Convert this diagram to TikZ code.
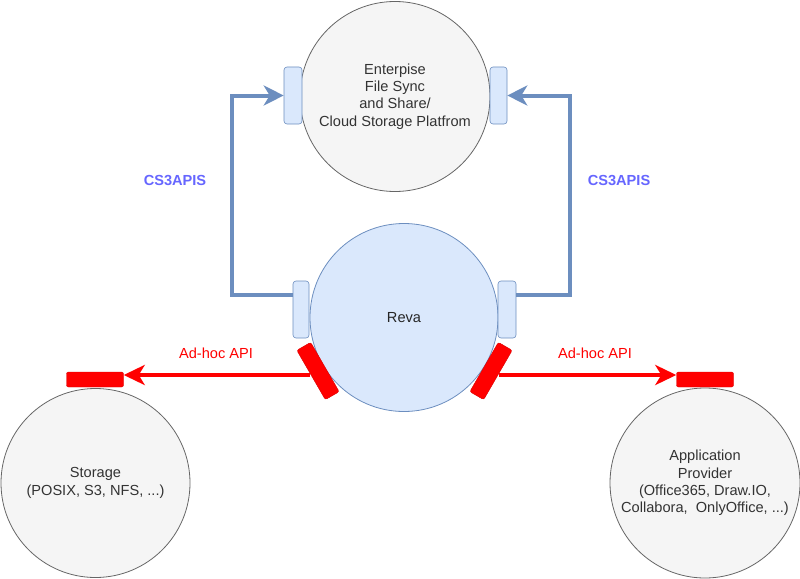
\documentclass[tikz,border=0pt]{standalone}
\usepackage{fontspec}
\setmainfont{Liberation Sans}
\usetikzlibrary{arrows.meta}
\definecolor{gfill}{HTML}{F5F5F5}
\definecolor{gline}{HTML}{666666}
\definecolor{gtext}{HTML}{333333}
\definecolor{bfill}{HTML}{DAE8FC}
\definecolor{bline}{HTML}{6C8EBF}
\definecolor{apicol}{HTML}{6666FF}
\definecolor{redc}{HTML}{FF0000}
\begin{document}
\begin{tikzpicture}[x=1pt,y=-1pt,
  every node/.style={font=\fontsize{14.6}{17.3}\selectfont},
  graycirc/.style={circle, draw=gline, fill=gfill, line width=0.8pt, inner sep=0pt,
    minimum size=#1, text=gtext, align=center},
  bluecirc/.style={circle, draw=bline, fill=bfill, line width=0.8pt, inner sep=0pt,
    minimum size=188pt, text=black!85, align=center},
  blueport/.style={rectangle, rounded corners=3pt, draw=bline, fill=bfill, line width=0.6pt,
    inner sep=0pt, minimum width=#1, minimum height=57pt},
  redport/.style={rectangle, rounded corners=2pt, draw=redc!85!black, fill=redc, line width=0.4pt,
    inner sep=0pt, minimum width=16pt, minimum height=57pt},
  redpad/.style={rectangle, rounded corners=2pt, draw=redc!85!black, fill=redc, line width=0.4pt,
    inner sep=0pt, minimum width=57pt, minimum height=15pt},
  blueconn/.style={draw=bline, line width=4pt,
    -{Stealth[length=20pt, width=20pt, inset=6pt]}},
  redconn/.style={draw=redc, line width=4pt,
    -{Stealth[length=21pt, width=20pt, inset=6pt]}},
  apilabel/.style={text=apicol, font=\fontsize{14.6}{17.3}\selectfont\bfseries},
  adhoclabel/.style={text=redc}
]
\useasboundingbox (0,0) rectangle (800,578);

% main circles
\node[graycirc=190pt] (ef) at (395,96.5) {Enterpise\\File Sync\\and Share/\\Cloud Storage Platfrom};
\node[bluecirc] (reva) at (404,317.5) {Reva};
\node[graycirc=189pt] (sto) at (95.5,483) {Storage\\(POSIX, S3, NFS, ...)};
\node[graycirc=190pt] (app) at (705,483) {Application\\Provider\\(Office365, Draw.IO,\\Collabora,\ \ OnlyOffice, ...)};

% blue ports
\node[blueport=18pt] (efL) at (293,95.5) {};
\node[blueport=17pt] (efR) at (498.5,95.5) {};
\node[blueport=16pt] (revaL) at (301,309.5) {};
\node[blueport=18pt] (revaR) at (507,309.5) {};

% red pads on storage / app
\node[redpad] (stoPort) at (95,379.5) {};
\node[redpad] (appPort) at (705,379.5) {};

% blue connectors
\draw[blueconn] ([yshift=14.5pt]revaL.west) -- ++(-61,0) |- (efL.west);
\draw[blueconn] ([yshift=14.5pt]revaR.east) -- ++(54,0) |- (efR.east);

% red connectors
\draw[redconn] ([shift={(-8,4)}]318,371) coordinate (rl) -- (stoPort.east |- rl);
\draw[redconn] ([shift={(8,4)}]491,371) coordinate (rr) -- (appPort.west |- rr);

% red rotated ports on reva
\node[redport, rotate=30] (redL) at (318,371) {};
\node[redport, rotate=-30] (redR) at (491,371) {};

% labels
\node[apilabel] (api1) at (175,180) {CS3APIS};
\node[apilabel] (api2) at (619,180) {CS3APIS};
\node[adhoclabel] (ah1) at (216,353) {Ad-hoc API};
\node[adhoclabel] (ah2) at (595,353) {Ad-hoc API};
\end{tikzpicture}
\end{document}
